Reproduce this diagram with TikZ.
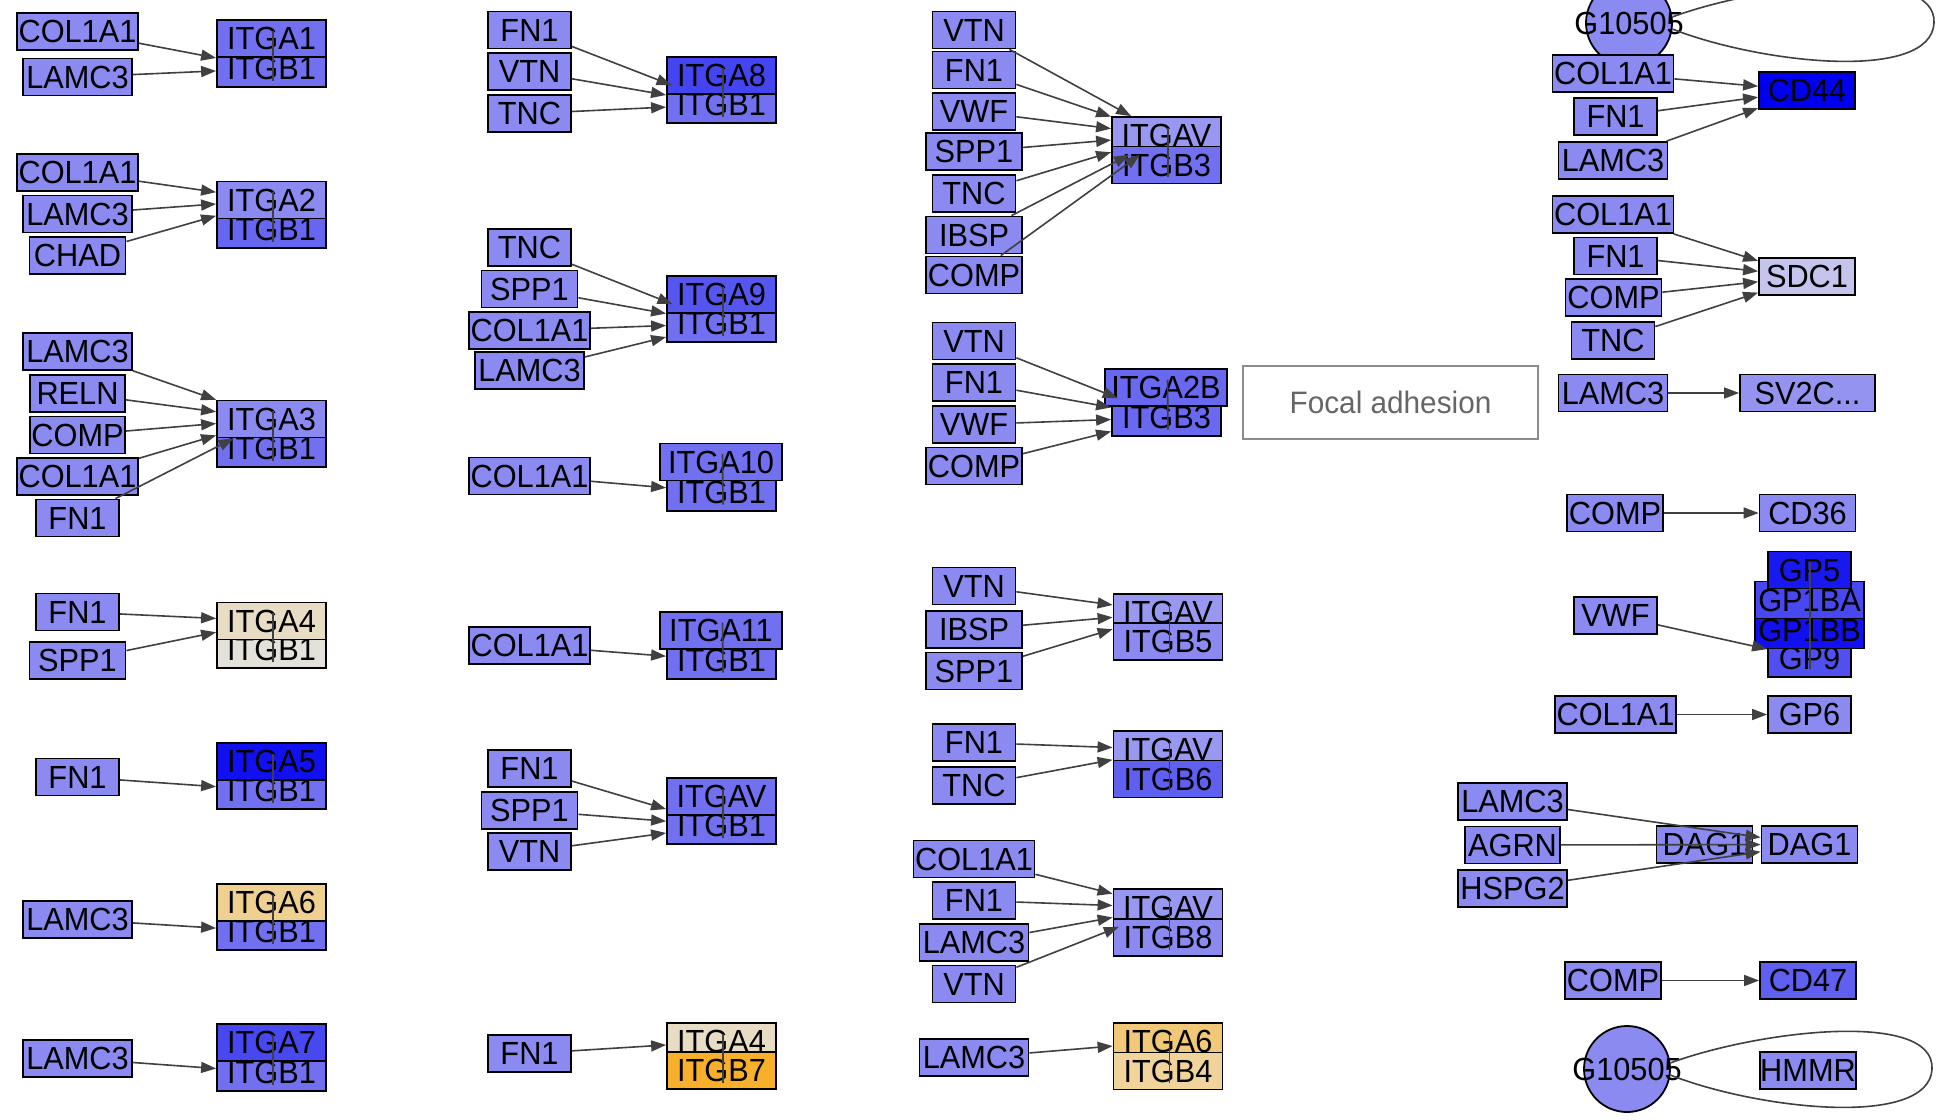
\documentclass[tikz,border=0pt]{standalone}
\usepackage{fontspec}
\setmainfont{Liberation Sans}[FakeStretch=0.96]
\usetikzlibrary{arrows.meta}
\definecolor{src}{HTML}{8A8AF0}
\definecolor{cmid}{HTML}{7070F0}
\definecolor{cdark}{HTML}{6666F0}
\definecolor{cbeigeA}{HTML}{E8DCC4}
\definecolor{cbeigeB}{HTML}{E4E0DA}
\definecolor{cblue10}{HTML}{1010F0}
\definecolor{cblue18}{HTML}{1818F0}
\definecolor{cblue00}{HTML}{0000F0}
\definecolor{cblue44}{HTML}{4444F0}
\definecolor{cblue48}{HTML}{4848F0}
\definecolor{cblue50}{HTML}{5050F0}
\definecolor{cblue55}{HTML}{5555F0}
\definecolor{cblue60}{HTML}{6060F0}
\definecolor{cblue68}{HTML}{6868F0}
\definecolor{clight}{HTML}{9898F0}
\definecolor{csv}{HTML}{9494F0}
\definecolor{csdc}{HTML}{C4C4EC}
\definecolor{corA6}{HTML}{F0D090}
\definecolor{corA6b}{HTML}{F0C878}
\definecolor{corB4}{HTML}{F0D49C}
\definecolor{corB7}{HTML}{F8B02C}
\definecolor{edgec}{HTML}{404040}
\definecolor{fagray}{HTML}{8C8C8C}
\definecolor{fatext}{HTML}{666666}
\newcommand\mkgene[5]{\node[gene,minimum width=#4pt,fill=#5] (#1) at (#2) {#3};}
\newcommand\cxline[2]{\draw[cline] ([xshift=1.5pt,yshift=8pt]#1.center) -- ([xshift=1.5pt,yshift=-12pt]#2.center);}
\begin{document}
\begin{tikzpicture}[x=1pt,y=-1pt,
  gene/.style={draw=black,line width=1.8pt,minimum height=37pt,inner sep=0pt,font=\fontsize{32}{33}\selectfont,text=black},
  arr/.style={draw=edgec,line width=1.6pt,-{Triangle[length=15pt,width=11pt]}},
  cline/.style={draw=edgec,line width=1.6pt},
  circ/.style={circle,draw=black,line width=1.8pt,fill=src,minimum size=86pt,inner sep=0pt,font=\fontsize{32}{33}\selectfont}]
\fill[white] (0,0) rectangle (1940,1119);
\useasboundingbox (0,0) rectangle (1940,1119);

% ---------------- column 1
\mkgene{a1s1}{77.5,31.5}{COL1A1}{121}{src}
\mkgene{a1s2}{77.5,77}{LAMC3}{109}{src}
\mkgene{a1b}{271.5,68.5}{ITGB1}{109}{cmid}
\mkgene{a1a}{271.5,38.5}{ITGA1}{109}{cmid}

\mkgene{a2s1}{77.5,172.5}{COL1A1}{121}{src}
\mkgene{a2s2}{77.5,214}{LAMC3}{109}{src}
\mkgene{a2s3}{77.5,255.5}{CHAD}{96}{src}
\mkgene{a2b}{271.5,229.5}{ITGB1}{109}{cdark}
\mkgene{a2a}{271.5,200}{ITGA2}{109}{src}

\mkgene{a3s1}{77.5,351.5}{LAMC3}{109}{src}
\mkgene{a3s2}{77.5,393.5}{RELN}{95}{src}
\mkgene{a3s3}{77.5,435}{COMP}{95}{src}
\mkgene{a3s4}{77.5,476.5}{COL1A1}{121}{src}
\mkgene{a3s5}{77.5,518}{FN1}{83}{src}
\mkgene{a3b}{271.5,448.5}{ITGB1}{109}{cmid}
\mkgene{a3a}{271.5,419}{ITGA3}{109}{src}

\mkgene{a4s1}{77.5,612}{FN1}{83}{src}
\mkgene{a4s2}{77.5,660.5}{SPP1}{96}{src}
\mkgene{a4b}{271.5,649.5}{ITGB1}{109}{cbeigeB}
\mkgene{a4a}{271.5,621}{ITGA4}{109}{cbeigeA}

\mkgene{a5s1}{77.5,777}{FN1}{83}{src}
\mkgene{a5b}{271.5,790.5}{ITGB1}{109}{cmid}
\mkgene{a5a}{271.5,761.5}{ITGA5}{109}{cblue10}

\mkgene{a6s1}{77.5,919.5}{LAMC3}{109}{src}
\mkgene{a6b}{271.5,931.5}{ITGB1}{109}{cmid}
\mkgene{a6a}{271.5,902.5}{ITGA6}{109}{corA6}

\mkgene{a7s1}{77.5,1058.5}{LAMC3}{109}{src}
\mkgene{a7b}{271.5,1072.5}{ITGB1}{109}{cmid}
\mkgene{a7a}{271.5,1042.5}{ITGA7}{109}{cblue48}

% ---------------- column 2
\mkgene{b1s1}{529.5,30}{FN1}{83}{src}
\mkgene{b1s2}{529.5,71.5}{VTN}{83}{src}
\mkgene{b1s3}{529.5,113.5}{TNC}{83}{src}
\mkgene{b1b}{721.5,104.5}{ITGB1}{109}{cmid}
\mkgene{b1a}{721.5,75.5}{ITGA8}{109}{cblue44}

\mkgene{b2s1}{529.5,247.5}{TNC}{83}{src}
\mkgene{b2s2}{529.5,289}{SPP1}{96}{src}
\mkgene{b2s3}{529.5,330.5}{COL1A1}{121}{src}
\mkgene{b2s4}{529.5,370.5}{LAMC3}{109}{src}
\mkgene{b2b}{721.5,323.5}{ITGB1}{109}{cmid}
\mkgene{b2a}{721.5,294.5}{ITGA9}{109}{cblue55}

\mkgene{b3s1}{529.5,476}{COL1A1}{121}{src}
\mkgene{b3b}{721.5,492.5}{ITGB1}{109}{cmid}
\mkgene{b3a}{721,462}{ITGA10}{122}{cmid}

\mkgene{b4s1}{529.5,645.5}{COL1A1}{121}{src}
\mkgene{b4b}{721.5,660.5}{ITGB1}{109}{cmid}
\mkgene{b4a}{721,630.5}{ITGA11}{122}{cmid}

\mkgene{b5s1}{529.5,768.5}{FN1}{83}{src}
\mkgene{b5s2}{529.5,810.5}{SPP1}{96}{src}
\mkgene{b5s3}{529.5,851.5}{VTN}{83}{src}
\mkgene{b5b}{721.5,825.5}{ITGB1}{109}{cmid}
\mkgene{b5a}{721.5,796.5}{ITGAV}{109}{cmid}

\mkgene{b6s1}{529.5,1053.5}{FN1}{83}{src}
\mkgene{b6a}{721.5,1041.5}{ITGA4}{109}{cbeigeA}
\mkgene{b6b}{721.5,1070.7}{ITGB7}{109}{corB7}

% ---------------- column 3
\mkgene{c1s1}{974,30}{VTN}{83}{src}
\mkgene{c1s2}{974,70}{FN1}{83}{src}
\mkgene{c1s3}{974,111.5}{VWF}{83}{src}
\mkgene{c1s4}{974,151.5}{SPP1}{96}{src}
\mkgene{c1s5}{974,193.5}{TNC}{83}{src}
\mkgene{c1s6}{974,235}{IBSP}{96}{src}
\mkgene{c1s7}{974,275}{COMP}{96}{src}
\mkgene{c1a}{1166.5,135.5}{ITGAV}{109}{clight}
\mkgene{c1b}{1166.5,165}{ITGB3}{109}{cmid}

\mkgene{c2s1}{974,341}{VTN}{83}{src}
\mkgene{c2s2}{974,382.5}{FN1}{83}{src}
\mkgene{c2s3}{974,424.5}{VWF}{83}{src}
\mkgene{c2s4}{974,466}{COMP}{96}{src}
\mkgene{c2b}{1166.5,417.5}{ITGB3}{109}{cblue68}
\mkgene{c2a}{1166,387.5}{ITGA2B}{122}{cblue68}

\mkgene{c3s1}{974,586}{VTN}{83}{src}
\mkgene{c3s2}{974,629.5}{IBSP}{96}{src}
\mkgene{c3s3}{974,671}{SPP1}{96}{src}
\mkgene{c3a}{1168,612.5}{ITGAV}{109}{clight}
\mkgene{c3b}{1168,641.5}{ITGB5}{109}{src}

\mkgene{c4s1}{974,742.5}{FN1}{83}{src}
\mkgene{c4s2}{974,785.5}{TNC}{83}{src}
\mkgene{c4a}{1168,749.5}{ITGAV}{109}{clight}
\mkgene{c4b}{1168,779}{ITGB6}{109}{cblue60}

\mkgene{c5s1}{974,859}{COL1A1}{121}{src}
\mkgene{c5s2}{974,900.5}{FN1}{83}{src}
\mkgene{c5s3}{974,942.5}{LAMC3}{109}{src}
\mkgene{c5s4}{974,984}{VTN}{83}{src}
\mkgene{c5a}{1168,907.5}{ITGAV}{109}{clight}
\mkgene{c5b}{1168,937.5}{ITGB8}{109}{src}

\mkgene{c6s1}{974,1057.5}{LAMC3}{109}{src}
\mkgene{c6a}{1168,1041.5}{ITGA6}{109}{corA6b}
\mkgene{c6b}{1168,1071}{ITGB4}{109}{corB4}

% ---------------- focal adhesion
\node[draw=fagray,line width=1.5pt,minimum width=295pt,minimum height=73pt,inner sep=0pt,text=fatext,font=\fontsize{31}{32}\selectfont] (fa) at (1390.5,402.5) {Focal adhesion};

% ---------------- column 4
\node[circ] (g1c) at (1629,23) {\makebox[0pt]{G10505}};
\mkgene{d1s1}{1613,73.5}{COL1A1}{121}{src}
\mkgene{d1s2}{1615.5,116.5}{FN1}{83}{src}
\mkgene{d1s3}{1613,160.5}{LAMC3}{109}{src}
\mkgene{d1t}{1807,90.5}{CD44}{96}{cblue00}

\mkgene{d2s1}{1613,214.5}{COL1A1}{121}{src}
\mkgene{d2s2}{1615.5,256}{FN1}{83}{src}
\mkgene{d2s3}{1613.5,297.5}{COMP}{96}{src}
\mkgene{d2s4}{1613,340.5}{TNC}{83}{src}
\mkgene{d2t}{1807,276.5}{SDC1}{96}{csdc}

\mkgene{d3s1}{1613,393}{LAMC3}{109}{src}
\mkgene{d3t}{1807.5,393}{SV2C...}{135}{csv}

\mkgene{d4s1}{1615,513}{COMP}{96}{src}
\mkgene{d4t}{1807.5,513}{CD36}{96}{src}

\mkgene{gp9}{1809.5,658.5}{GP9}{83}{cblue50}
\mkgene{gp1bb}{1809.5,630}{GP1BB}{109}{cblue10}
\mkgene{gp1ba}{1809.5,600}{GP1BA}{109}{cblue48}
\mkgene{gp5}{1809.5,570}{GP5}{83}{cblue18}
\mkgene{d5s1}{1615.5,615.5}{VWF}{83}{src}

\mkgene{d6s1}{1615.5,714.5}{COL1A1}{121}{src}
\mkgene{d6t}{1809.5,714.5}{GP6}{83}{src}

\mkgene{d7s1}{1512.5,801.5}{LAMC3}{109}{src}
\mkgene{d7s2}{1512.5,845}{AGRN}{95}{src}
\mkgene{d7s3}{1512.5,888.5}{HSPG2}{109}{src}
\mkgene{d7m}{1704.5,844.5}{DAG1}{96}{src}
\mkgene{d7t}{1809.5,844.5}{DAG1}{96}{src}

\mkgene{d8s1}{1613,980.5}{COMP}{96}{src}
\mkgene{d8t}{1808,980.5}{CD47}{96}{cblue60}

\node[circ] (g2c) at (1627,1069) {\makebox[0pt]{G10505}};
\mkgene{d9t}{1808,1070.5}{HMMR}{96}{src}

% ---------------- complex links
\cxline{a1a}{a1b} \cxline{a2a}{a2b} \cxline{a3a}{a3b} \cxline{a4a}{a4b}
\cxline{a5a}{a5b} \cxline{a6a}{a6b} \cxline{a7a}{a7b}
\cxline{b1a}{b1b} \cxline{b2a}{b2b} \cxline{b3a}{b3b} \cxline{b4a}{b4b}
\cxline{b5a}{b5b} \cxline{b6a}{b6b}
\cxline{c1a}{c1b} \cxline{c2a}{c2b} \cxline{c3a}{c3b} \cxline{c4a}{c4b}
\cxline{c5a}{c5b} \cxline{c6a}{c6b}
\draw[cline] ([xshift=0.5pt,yshift=8pt]gp5.center) -- ([xshift=0.5pt,yshift=-10pt]gp9.center);

% ---------------- edges
\foreach \s in {a1s1,a1s2} \draw[arr] (\s) -- (a1b);
\foreach \s in {a2s1,a2s2,a2s3} \draw[arr] (\s) -- (a2a);
\foreach \s in {a3s1,a3s2,a3s3,a3s4,a3s5} \draw[arr] (\s) -- (a3a);
\foreach \s in {a4s1,a4s2} \draw[arr] (\s) -- (a4a);
\draw[arr] (a5s1) -- (a5b);
\draw[arr] (a6s1) -- (a6b);
\draw[arr] (a7s1) -- (a7b);
\foreach \s in {b1s1,b1s2,b1s3} \draw[arr] (\s) -- (b1b);
\foreach \s in {b2s1,b2s2,b2s3,b2s4} \draw[arr] (\s) -- (b2b);
\draw[arr] (b3s1) -- (b3b);
\draw[arr] (b4s1) -- (b4b);
\foreach \s in {b5s1,b5s2,b5s3} \draw[arr] (\s) -- (b5b);
\draw[arr] (b6s1) -- (b6a);
\foreach \s in {c1s1,c1s2,c1s3,c1s4,c1s5,c1s6,c1s7} \draw[arr] (\s) -- (c1a);
\foreach \s in {c2s1,c2s2,c2s3,c2s4} \draw[arr] (\s) -- (c2b);
\foreach \s in {c3s1,c3s2,c3s3} \draw[arr] (\s) -- (c3a);
\foreach \s in {c4s1,c4s2} \draw[arr] (\s) -- (c4a);
\foreach \s in {c5s1,c5s2,c5s3,c5s4} \draw[arr] (\s) -- (c5a);
\draw[arr] (c6s1) -- (c6a);
\foreach \s in {d1s1,d1s2,d1s3} \draw[arr] (\s) -- (d1t);
\foreach \s in {d2s1,d2s2,d2s3,d2s4} \draw[arr] (\s) -- (d2t);
\draw[arr] (d3s1) -- (d3t);
\draw[arr] (d4s1) -- (d4t);
\draw[arr] (d5s1) -- (gp9);
\draw[arr] (d6s1) -- (d6t);
\foreach \s in {d7s1,d7s2,d7s3} \draw[arr] (\s) -- (d7t);
\draw[arr] (d8s1) -- (d8t);

% ---------------- self loops
\coordinate (g1r) at (1934,23);
\draw[cline] (g1c.8) .. controls (1762,-16) and (1937,-36) .. (g1r) .. controls (1931,82) and (1762,64) .. (g1c.-8);
\coordinate (g2r) at (1932,1069);
\draw[cline] (g2c.8) .. controls (1760,1030) and (1935,1010) .. (g2r) .. controls (1929,1128) and (1760,1110) .. (g2c.-8);
\end{tikzpicture}
\end{document}
